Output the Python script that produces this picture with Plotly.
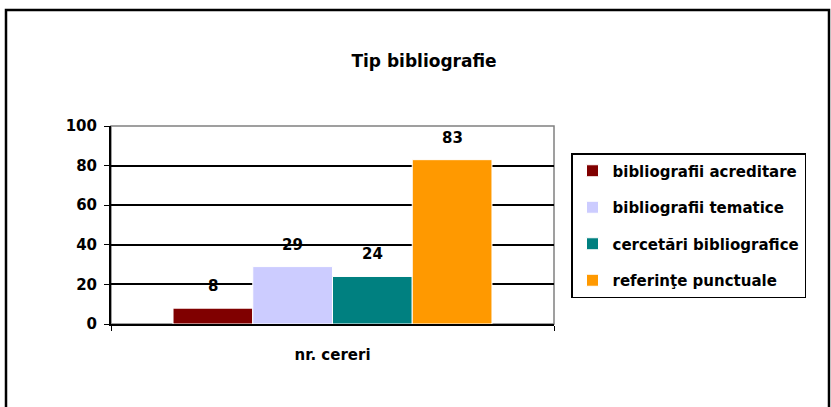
import plotly.graph_objects as go

categories = ["nr. cereri"]
series_names = ["bibliografii acreditare", "bibliografii tematice",
                "cercetări bibliografice", "referinţe punctuale"]
series_values = [8, 29, 24, 83]
series_colors = ["#800000", "#ccccff", "#008080", "#ff9900"]
y_ticks = [0, 20, 40, 60, 80, 100]

FONT = "DejaVu Sans"
W, H = 831, 407
L, R, T, B = 111, 277, 126, 83
BARGAP = 0.28

fig = go.Figure()
for name, val, col in zip(series_names, series_values, series_colors):
    fig.add_trace(go.Bar(
        x=categories, y=[val], name=f"<b>{name}</b>", legendgroup=name,
        marker=dict(color=col, line=dict(color="white", width=1)),
        hoverinfo="skip",
    ))

# data labels above each bar, positioned via the category axis index
n = len(series_values)
bw = (1 - BARGAP) / n
annotations = []
for i, val in enumerate(series_values):
    xpos = -(1 - BARGAP) / 2 + (i + 0.5) * bw
    annotations.append(dict(
        x=xpos, y=val, xref="x", yref="y", text=f"<b>{val}</b>",
        showarrow=False, yanchor="middle", yshift=22,
        font=dict(family=FONT, size=15, color="black"),
    ))

pw = W - L - R
ph = H - T - B
shapes = [
    dict(type="rect", xref="paper", yref="paper", x0=0, x1=1, y0=0, y1=1,
         line=dict(color="#808080", width=1.5), layer="below"),
    dict(type="rect", xref="paper", yref="paper",
         x0=(6 - L) / pw, x1=(829 - L) / pw,
         y0=(H - B - 412) / ph, y1=(H - B - 10) / ph,
         line=dict(color="black", width=2.5)),
]

fig.update_layout(
    width=W, height=H,
    margin=dict(l=L, r=R, t=T, b=B),
    paper_bgcolor="white", plot_bgcolor="white",
    barmode="group", bargap=BARGAP, bargroupgap=0,
    font=dict(family=FONT, color="black"),
    title=dict(text="<b>Tip bibliografie</b>", x=424 / W, xanchor="center",
               y=1 - 61 / H, yanchor="middle",
               font=dict(family=FONT, size=17, color="black")),
    xaxis=dict(
        tickvals=categories, ticktext=[f"<b>{c}</b>" for c in categories],
        showline=True, linecolor="black", linewidth=2,
        ticks="outside", tickson="boundaries", ticklen=5, tickcolor="black",
        tickfont=dict(family=FONT, size=15, color="black"),
        ticklabelstandoff=16,
        showgrid=False, fixedrange=True,
    ),
    yaxis=dict(
        range=[0, 100], tickvals=y_ticks, ticktext=[f"<b>{v}</b>" for v in y_ticks],
        showline=True, linecolor="black", linewidth=2,
        ticks="outside", ticklen=5, tickcolor="black",
        tickfont=dict(family=FONT, size=15, color="black"),
        ticklabelstandoff=4,
        showgrid=True, gridcolor="black", gridwidth=1.5,
        zeroline=False, fixedrange=True,
    ),
    legend=dict(
        x=(571 - L) / pw, xanchor="left",
        y=(H - B - 153) / ph, yanchor="top",
        bordercolor="black", borderwidth=1.5, bgcolor="white",
        font=dict(family=FONT, size=15, color="black"),
        traceorder="grouped", tracegroupgap=14,
        itemwidth=30,
    ),
    annotations=annotations,
    shapes=shapes,
    showlegend=True,
)

fig.write_html("out.html", config={"displayModeBar": False},
               post_script="document.body.style.margin='0';document.body.style.overflow='hidden';")
